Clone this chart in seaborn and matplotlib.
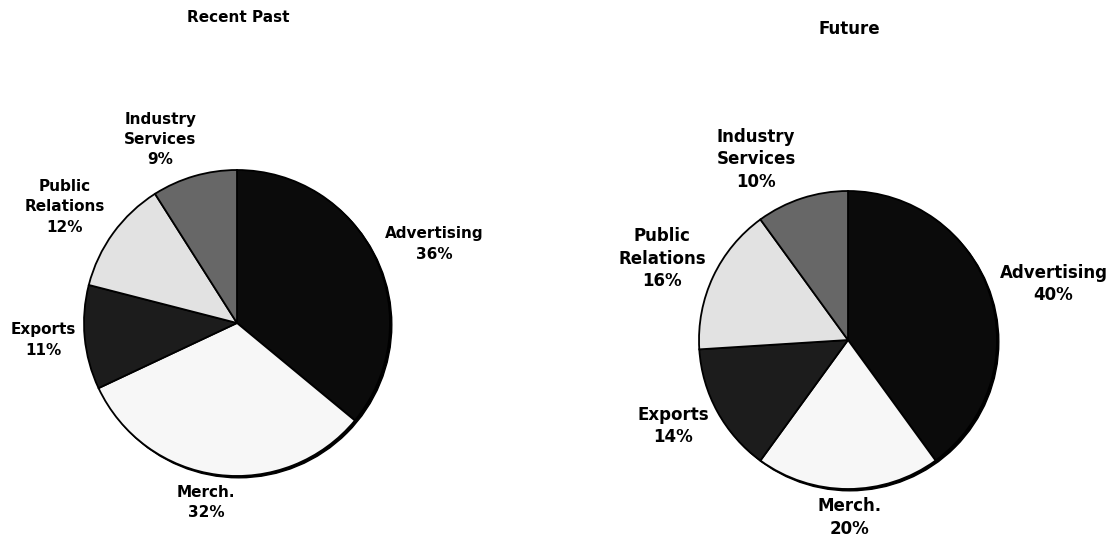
import numpy as np
import matplotlib
matplotlib.use("Agg")
import matplotlib.pyplot as plt
import seaborn as sns
from matplotlib.patches import Circle

# data
categories = ["Advertising", "Merch.", "Exports", "Public\nRelations", "Industry\nServices"]
recent_past = [36, 32, 11, 12, 9]
future = [40, 20, 14, 16, 10]
titles = ["Recent Past", "Future"]

colors = ["#0b0b0b", "#f7f7f7", "#1c1c1c", "#e2e2e2", "#676767"]

sns.set_theme(style="white")
plt.rcParams['font.family'] = ['DejaVu Sans']

W, H = 1119, 539
fig = plt.figure(figsize=(W / 100, H / 100), dpi=100)
ax = fig.add_axes([0, 0, 1, 1])

# layout: pie centre (px, y up), radius, title position, font size,
# per-label radial factor and angle nudge (deg)
panels = [
    dict(values=recent_past, title=titles[0], center=(237, H - 323), r=153,
         title_xy=(238, H - 17), fs=11, ls=1.45,
         lab_f=[1.39, 1.19, 1.27, 1.36, 1.30], lab_nudge=[-3.4, -2.6, -0.4, 2.0, 6.5]),
    dict(values=future, title=titles[1], center=(848, H - 340), r=149,
         title_xy=(849, H - 29), fs=12, ls=1.32,
         lab_f=[1.43, 1.19, 1.31, 1.36, 1.36], lab_nudge=[-2.7, 0.6, -2.6, 1.6, 9.0]),
]

for p in panels:
    cx, cy = p["center"]
    r = p["r"]
    # drop shadow ring
    ax.add_patch(Circle((cx + 1.8, cy - 1.8), r, facecolor="black", edgecolor="black", lw=1, zorder=0))
    wedges, _ = ax.pie(p["values"], center=(cx, cy), radius=r, colors=colors,
                       startangle=90, counterclock=False,
                       wedgeprops=dict(edgecolor="black", linewidth=1.3))
    for w in wedges:
        w.set_zorder(1)
    for w, name, v, f, dn in zip(wedges, categories, p["values"], p["lab_f"], p["lab_nudge"]):
        mid = np.deg2rad((w.theta1 + w.theta2) / 2 + dn)
        ax.text(cx + f * r * np.cos(mid), cy + f * r * np.sin(mid), f"{name}\n{v}%",
                ha="center", va="center", fontsize=p["fs"], fontweight="bold",
                linespacing=p["ls"], color="black")
    ax.text(*p["title_xy"], p["title"], ha="center", va="center",
            fontsize=p["fs"], fontweight="bold", color="black")

ax.set_xlim(0, W)
ax.set_ylim(0, H)
ax.set_aspect("auto")
ax.axis("off")

fig.savefig("out.png", dpi=100, facecolor="white")
